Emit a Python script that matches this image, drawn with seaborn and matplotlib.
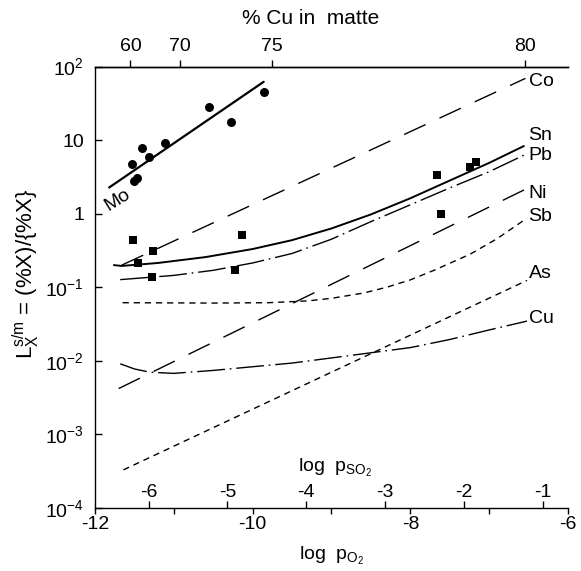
import numpy as np
import pandas as pd
import matplotlib
matplotlib.use("Agg")
import matplotlib.pyplot as plt
import seaborn as sns

# ---------------- data ----------------
# Mo measurements (circles) and fitted line
mo_x = [-11.53, -11.40, -11.32, -11.47, -11.505, -11.11, -10.55, -10.27, -9.855]
mo_y = [4.7, 7.7, 5.9, 3.1, 2.8, 9.0, 28.0, 17.4, 45.0]
mo_fit_x = [-11.82, -9.86]
mo_fit_y = [2.27, 62.0]

# other measurements (squares)
sq_x = [-11.52, -11.26, -11.46, -11.28, -10.14, -10.22, -7.66, -7.17, -7.24, -7.61]
sq_y = [0.435, 0.31, 0.214, 0.136, 0.52, 0.174, 3.34, 5.07, 4.26, 1.0]

co_x = [-11.66, -6.54]
co_y = [0.20, 69.0]

ni_x = [-11.70, -6.52]
ni_y = [0.0042, 2.2]

as_x = [-11.64, -6.52]
as_y = [3.3e-4, 0.124]

sn_x = [-11.76, -11.66, -11.2, -10.6, -10.0, -9.5, -9.0, -8.5, -8.0, -7.5, -7.0, -6.56]
sn_y = [0.20, 0.195, 0.214, 0.257, 0.331, 0.437, 0.63, 0.977, 1.62, 2.82, 4.9, 8.3]

pb_x = [-11.68, -11.0, -10.5, -10.0, -9.5, -9.0, -8.5, -8.0, -7.5, -7.0, -6.54]
pb_y = [0.127, 0.145, 0.170, 0.214, 0.288, 0.45, 0.78, 1.32, 2.24, 3.72, 6.38]

sb_x = [-11.65, -10.5, -9.8, -9.3, -9.0, -8.6, -8.3, -8.0, -7.7, -7.24, -6.9, -6.56]
sb_y = [0.0617, 0.061, 0.0617, 0.0653, 0.0708, 0.0832, 0.10, 0.126, 0.170, 0.282, 0.457, 0.813]

cu_x = [-11.68, -11.5, -11.3, -11.0, -10.5, -10.0, -9.5, -9.0, -8.5, -8.0, -7.5, -7.0, -6.52]
cu_y = [0.00912, 0.00776, 0.0070, 0.00676, 0.00741, 0.00832, 0.00933, 0.01096,
        0.01288, 0.01514, 0.0195, 0.0263, 0.0347]

curve_labels = ["Co", "Sn", "Pb", "Ni", "Sb", "As", "Cu"]
curve_label_y = [61.7, 11.5, 6.1, 1.88, 0.906, 0.153, 0.0375]

# top axis: % Cu in matte (non-linear)
cu_matte_labels = ["60", "70", "75", "80"]
cu_matte_pos = [-11.55, -10.92, -9.75, -6.55]

# inner axis: log p_SO2
pso2_ticks = [-6, -5, -4, -3, -2, -1]
pso2_offset = 5.32

ytick_vals = [1e-4, 1e-3, 1e-2, 1e-1, 1, 10, 100]
ytick_labels = ["$10^{-4}$", "$10^{-3}$", "$10^{-2}$", "$10^{-1}$", "1", "10", "$10^{2}$"]
xtick_major = [-12, -10, -8, -6]
xtick_minor = [-11, -9, -7]

# ---------------- styling ----------------
sns.set_style("ticks")
plt.rcParams['font.family'] = ['Liberation Sans', 'DejaVu Sans']
plt.rcParams['axes.unicode_minus'] = False
plt.rcParams['mathtext.default'] = 'regular'
for key in ['text.color', 'axes.labelcolor', 'xtick.color', 'ytick.color', 'axes.edgecolor']:
    plt.rcParams[key] = 'black'

fig = plt.figure(figsize=(5.81, 5.71), dpi=100)
ax = fig.add_axes([0.1635, 0.1103, 0.8141, 0.7732])
ax.set_yscale('log')
ax.set_xlim(-12, -6)
ax.set_ylim(1e-4, 1e2)

K = 'black'
LONG = (0, (17, 11))
SHORT = (0, (4.5, 3.5))
DASHDOT = (0, (20, 3.5, 1.2, 3.5))


def curve(x, y, ls, lw=1.0):
    sns.lineplot(x=x, y=y, ax=ax, color=K, lw=lw, sort=False, estimator=None)
    ax.lines[-1].set_linestyle(ls)


curve(mo_fit_x, mo_fit_y, '-', 1.6)
curve(co_x, co_y, LONG)
curve(ni_x, ni_y, LONG)
curve(as_x, as_y, SHORT)
curve(sb_x, sb_y, SHORT)
curve(sn_x, sn_y, '-', 1.4)
curve(pb_x, pb_y, DASHDOT)
curve(cu_x, cu_y, DASHDOT)

sns.scatterplot(x=mo_x, y=mo_y, ax=ax, marker='o', s=42, color=K, edgecolor=K, linewidth=0, zorder=5)
sns.scatterplot(x=sq_x, y=sq_y, ax=ax, marker='s', s=38, color=K, edgecolor=K, linewidth=0, zorder=5)

for lab, yv in zip(curve_labels, curve_label_y):
    ax.text(-6.50, yv, lab, fontsize=14, ha='left', va='center')
ax.text(-11.72, 1.55, "Mo", fontsize=14, rotation=32, ha='center', va='center')

# axes / ticks
ax.spines['right'].set_visible(False)
ax.set_yticks(ytick_vals)
ax.set_yticklabels(ytick_labels)
ax.yaxis.set_minor_locator(matplotlib.ticker.NullLocator())
ax.tick_params(axis='y', direction='in', length=5, width=1, labelsize=14, pad=8, right=False)
ax.set_xticks(xtick_major)
ax.set_xticklabels([str(v) for v in xtick_major])
ax.set_xticks(xtick_minor, minor=True)
ax.tick_params(axis='x', which='both', direction='out', length=4, width=1, labelsize=14, pad=2, top=False)
for s in ax.spines.values():
    s.set_linewidth(1.0)
ax.set_xlabel("log  $p_{O_2}$", fontsize=14, labelpad=8)
ax.set_ylabel("$L_X^{s/m}$ = (%X)/{%X}", fontsize=16)
ax.yaxis.set_label_coords(-0.112, 0.53)

# inner log p_SO2 axis
sec = ax.secondary_xaxis(0.0, functions=(lambda v: v + pso2_offset, lambda v: v - pso2_offset))
sec.set_xticks(pso2_ticks)
sec.set_xticklabels([str(v) for v in pso2_ticks])
sec.xaxis.set_minor_locator(matplotlib.ticker.NullLocator())
sec.tick_params(axis='x', direction='in', length=5, width=1, labelsize=14, pad=-17)
sec.spines['bottom'].set_visible(False)
ax.text(0.507, 0.09, "log  $p_{SO_2}$", transform=ax.transAxes, fontsize=14, ha='center', va='center')

# top axis: % Cu in matte
top = ax.twiny()
top.set_xlim(ax.get_xlim())
top.set_xticks(cu_matte_pos)
top.set_xticklabels(cu_matte_labels)
top.xaxis.set_minor_locator(matplotlib.ticker.NullLocator())
top.tick_params(axis='x', direction='out', length=5, width=1, labelsize=14, pad=3)
for side in ['right', 'left', 'bottom']:
    top.spines[side].set_visible(False)
top.spines['top'].set_linewidth(1.0)
fig.text(311 / 581, 1 - 18 / 571, "% Cu in  matte", fontsize=15, ha='center', va='center')

fig.savefig("out.png", dpi=100)
